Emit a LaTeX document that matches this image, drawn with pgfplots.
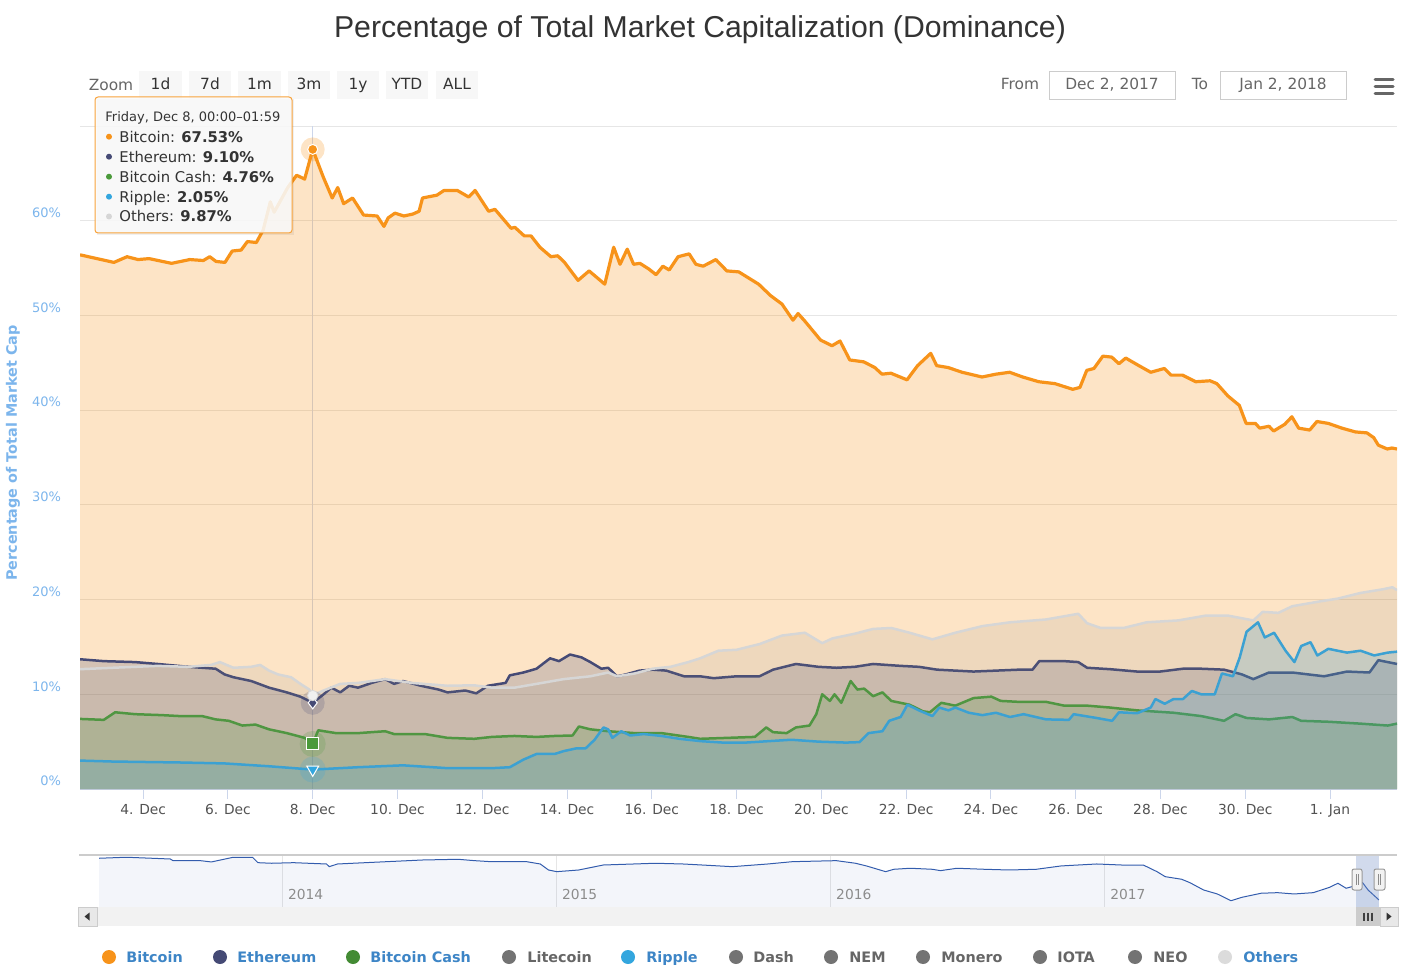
\documentclass[border=0pt]{standalone}
\usepackage{pgfplots}
\pgfplotsset{compat=1.18}
\usepackage{pgfplotstable}
\usepackage{fontspec}
\setmainfont{DejaVu Sans}
\newfontfamily\titlefont{Liberation Sans}
\definecolor{btc}{HTML}{F7931A}
\definecolor{eth}{HTML}{454A75}
\definecolor{bch}{HTML}{4A9A3A}
\definecolor{xrp}{HTML}{33A6DE}
\definecolor{oth}{HTML}{D6D6D6}
\definecolor{gridc}{HTML}{E6E6E6}
\definecolor{axisblue}{HTML}{CCD6EB}
\definecolor{ylab}{HTML}{7CB5EC}
\definecolor{legtext}{HTML}{3D85C6}
\definecolor{nav}{HTML}{335CAD}
\definecolor{txt}{HTML}{333333}
\definecolor{txtg}{HTML}{666666}

\pgfplotstableread{
d v
2.51 56.4
3.31 55.6
3.62 56.2
3.88 55.9
4.14 56.0
4.67 55.5
5.10 55.9
5.42 55.8
5.57 56.2
5.72 55.7
5.93 55.6
6.10 56.8
6.31 56.9
6.46 57.8
6.67 57.7
6.83 59.0
7.00 62.0
7.09 60.9
7.41 63.5
7.62 64.8
7.81 64.4
8.00 67.53
8.25 64.6
8.46 62.4
8.59 63.5
8.73 61.8
8.94 62.4
9.20 60.6
9.52 60.5
9.68 59.4
9.78 60.3
9.94 60.8
10.15 60.5
10.36 60.7
10.51 61.0
10.59 62.4
10.93 62.7
11.10 63.2
11.41 63.2
11.68 62.5
11.83 63.2
12.15 61.0
12.30 61.2
12.68 59.2
12.77 59.3
12.99 58.4
13.15 58.4
13.36 57.2
13.62 56.2
13.78 56.3
13.94 55.6
14.26 53.7
14.52 54.7
14.89 53.3
15.10 57.2
15.25 55.4
15.42 57.0
15.57 55.4
15.72 55.5
15.93 54.9
16.10 54.3
16.26 55.2
16.41 54.8
16.62 56.2
16.88 56.5
17.04 55.4
17.21 55.2
17.51 55.9
17.77 54.7
18.05 54.6
18.52 53.3
18.80 52.1
19.07 51.2
19.33 49.5
19.45 50.2
19.61 49.4
19.98 47.4
20.25 46.8
20.44 47.3
20.67 45.3
21.00 45.1
21.26 44.5
21.43 43.8
21.64 43.9
22.02 43.2
22.27 44.7
22.58 46.0
22.72 44.7
22.99 44.5
23.32 44.0
23.79 43.5
24.12 43.8
24.44 44.0
24.75 43.5
25.13 43.0
25.51 42.8
25.93 42.2
26.10 42.4
26.26 44.2
26.43 44.4
26.64 45.7
26.85 45.6
27.02 44.9
27.18 45.5
27.49 44.7
27.77 44.0
28.09 44.4
28.25 43.7
28.52 43.7
28.83 43.0
29.17 43.1
29.33 42.8
29.59 41.5
29.86 40.5
30.02 38.6
30.24 38.6
30.34 38.1
30.56 38.3
30.67 37.8
30.93 38.5
31.10 39.3
31.26 38.1
31.52 37.9
31.69 38.8
31.96 38.6
32.28 38.1
32.60 37.7
32.87 37.6
33.03 37.1
33.14 36.3
33.35 35.9
33.46 36.0
33.58 35.9
}\btcdata

\pgfplotstableread{
d v
2.51 13.7
3.07 13.5
3.81 13.4
4.34 13.2
5.07 12.9
5.71 12.7
5.92 12.1
6.13 11.8
6.55 11.4
6.97 10.7
7.39 10.2
7.71 9.75
8.00 9.10
8.23 9.9
8.44 10.7
8.65 10.2
8.86 10.9
9.07 10.7
9.39 11.2
9.71 11.6
9.92 11.1
10.13 11.4
10.55 10.9
10.97 10.5
11.18 10.2
11.60 10.4
11.86 10.1
12.13 10.9
12.55 11.2
12.65 12.0
12.97 12.3
13.28 12.7
13.60 13.8
13.81 13.5
14.07 14.2
14.34 13.9
14.55 13.4
14.81 12.7
14.97 12.8
15.18 11.9
15.39 12.1
15.71 12.5
16.02 12.6
16.34 12.5
16.76 11.9
17.14 11.9
17.46 11.7
18.00 11.9
18.54 11.9
18.86 12.6
19.40 13.2
19.93 12.9
20.36 12.8
20.79 12.9
21.22 13.2
21.87 13.0
22.30 12.9
22.73 12.6
23.59 12.4
24.66 12.6
24.98 12.6
25.14 13.5
25.73 13.5
26.06 13.4
26.27 12.8
26.81 12.65
27.45 12.4
27.99 12.4
28.53 12.7
28.96 12.7
29.50 12.6
29.92 12.1
30.19 11.6
30.56 12.3
31.11 12.3
31.86 11.9
32.40 12.4
32.93 12.3
33.14 13.6
33.58 13.2
}\ethdata

\pgfplotstableread{
d v
2.51 7.4
3.07 7.3
3.34 8.1
3.81 7.9
4.44 7.8
4.86 7.7
5.39 7.7
5.71 7.35
6.02 7.2
6.34 6.7
6.65 6.8
6.97 6.3
7.39 5.9
7.81 5.4
8.00 4.76
8.13 6.2
8.55 5.9
9.07 5.9
9.71 6.1
9.92 5.8
10.65 5.8
11.18 5.4
11.81 5.3
12.23 5.5
12.76 5.6
13.28 5.5
13.71 5.6
14.13 5.65
14.28 6.6
14.55 6.3
14.97 6.1
15.60 5.9
16.23 5.9
16.86 5.5
17.14 5.3
17.79 5.4
18.43 5.5
18.70 6.5
18.86 6.0
19.18 5.9
19.40 6.5
19.72 6.7
19.88 7.9
20.02 10.0
20.20 9.3
20.31 10.0
20.47 9.1
20.69 11.4
20.85 10.5
21.01 10.6
21.22 9.8
21.44 10.2
21.65 9.3
22.08 8.9
22.40 8.2
22.56 8.1
22.83 9.1
23.16 8.8
23.59 9.6
24.01 9.75
24.23 9.3
24.66 9.2
25.30 9.2
25.73 8.8
26.27 8.8
26.81 8.6
27.45 8.3
28.31 8.05
28.96 7.7
29.50 7.2
29.77 7.9
30.03 7.5
30.56 7.35
31.11 7.6
31.32 7.2
31.96 7.1
32.72 6.9
33.36 6.7
33.58 6.9
}\bchdata

\pgfplotstableread{
d v
2.51 3.0
3.28 2.9
4.86 2.8
5.92 2.7
6.97 2.4
8.00 2.05
9.07 2.3
10.13 2.5
11.18 2.2
12.23 2.2
12.65 2.3
12.97 3.1
13.28 3.7
13.71 3.7
13.92 4.0
14.23 4.3
14.44 4.3
14.65 5.2
14.86 6.5
14.97 6.3
15.07 5.4
15.28 6.1
15.49 5.65
15.81 5.8
16.23 5.6
16.65 5.3
17.16 5.05
17.68 4.9
18.21 4.9
18.75 5.05
19.29 5.2
19.93 5.0
20.58 4.9
20.90 4.95
21.11 5.9
21.44 6.1
21.60 7.2
21.87 7.6
22.03 8.9
22.30 8.3
22.62 7.7
22.78 8.6
23.00 8.3
23.16 8.6
23.48 8.05
23.80 7.8
24.12 8.05
24.45 7.6
24.77 7.9
25.30 7.35
25.84 7.3
25.95 7.9
26.49 7.5
26.86 7.2
27.02 8.1
27.45 8.0
27.77 8.6
27.88 9.5
28.10 9.0
28.31 9.5
28.53 9.5
28.74 10.35
28.96 10.0
29.28 10.0
29.45 12.2
29.71 11.9
29.87 13.9
30.03 16.6
30.30 17.6
30.46 16.0
30.68 16.5
30.95 14.6
31.16 13.4
31.32 15.1
31.54 15.5
31.70 14.1
31.96 14.8
32.40 14.4
32.72 14.6
33.04 14.1
33.36 14.4
33.58 14.5
}\xrpdata

\pgfplotstableread{
d v
2.51 12.65
3.28 12.8
4.34 13.0
5.07 12.9
5.60 13.1
5.81 13.4
6.13 12.8
6.55 12.9
6.76 13.1
6.97 12.5
7.18 12.1
7.49 11.8
7.71 11.1
7.92 10.5
8.00 9.87
8.23 10.35
8.65 11.1
9.07 11.2
9.71 11.6
10.34 11.2
11.18 10.9
11.81 10.95
12.23 10.7
12.76 10.7
13.28 11.1
13.92 11.6
14.55 11.9
14.97 12.3
15.18 11.9
15.60 12.2
16.02 12.7
16.44 12.9
16.86 13.4
17.14 13.8
17.57 14.6
18.00 14.7
18.54 15.3
19.07 16.2
19.61 16.5
20.02 15.4
20.26 15.9
20.79 16.4
21.22 16.9
21.65 17.0
22.08 16.5
22.62 15.8
23.16 16.5
23.80 17.2
24.45 17.6
25.30 17.9
26.06 18.5
26.27 17.5
26.59 17.0
27.13 17.0
27.67 17.6
28.42 17.8
29.06 18.3
29.60 18.3
30.19 17.8
30.41 18.7
30.78 18.6
31.11 19.3
31.75 19.8
32.18 20.1
32.72 20.7
33.26 21.1
33.47 21.3
33.58 21.0
}\othdata

\pgfplotstableread{
t v
2013.33 93.6
2013.43 95.0
2013.59 92.6
2013.60 90.3
2013.70 90.3
2013.74 88.5
2013.82 95.0
2013.89 95.0
2013.91 87.5
2013.96 86.7
2014.04 87.5
2014.16 85.7
2014.17 82.0
2014.20 85.7
2014.38 88.9
2014.51 91.2
2014.64 92.2
2014.70 90.3
2014.76 88.9
2014.89 88.9
2014.94 85.7
2014.97 77.4
2015.00 75.1
2015.08 77.4
2015.17 84.3
2015.36 86.7
2015.46 85.7
2015.53 84.3
2015.64 82.0
2015.77 85.7
2015.86 88.9
2016.02 90.3
2016.09 86.7
2016.13 83.0
2016.20 75.1
2016.23 78.4
2016.29 79.8
2016.37 78.4
2016.40 76.5
2016.46 79.8
2016.56 78.4
2016.65 77.4
2016.75 78.4
2016.84 83.0
2016.97 85.7
2017.06 84.3
2017.14 84.3
2017.19 75.1
2017.22 68.2
2017.28 64.6
2017.31 59.9
2017.36 49.8
2017.41 44.3
2017.46 35.0
2017.50 39.7
2017.57 45.3
2017.63 46.1
2017.69 44.3
2017.76 46.1
2017.82 53.5
2017.85 59.1
2017.88 52.2
2017.91 55.3
2017.94 59.9
2017.96 49.8
2018.00 36.0
}\navdata

\begin{document}
\begin{tikzpicture}
\path[use as bounding box] (0,0) rectangle (707pt,488pt);

% ---------------- main chart ----------------
\begin{axis}[
  at={(40pt,93.5pt)}, anchor=south west,
  width=658.5pt, height=331.5pt, scale only axis,
  xmin=2.51, xmax=33.58, ymin=0, ymax=70,
  axis x line*=bottom, axis y line*=left,
  y axis line style={draw=none},
  x axis line style={draw=axisblue, line width=0.5pt},
  xtick={4,6,...,32},
  xticklabels={4. Dec,6. Dec,8. Dec,10. Dec,12. Dec,14. Dec,16. Dec,18. Dec,20. Dec,22. Dec,24. Dec,26. Dec,28. Dec,30. Dec,1. Jan},
  ytick={0,10,...,70},
  yticklabels={0\%,10\%,20\%,30\%,40\%,50\%,60\%,},
  ymajorgrids, grid style={draw=gridc, line width=0.5pt},
  tick align=outside, major tick length=5pt,
  x tick style={draw=axisblue, line width=0.5pt},
  y tick style={draw=none},
  xticklabel style={font=\fontsize{6.9}{8}\selectfont, text=txt!85, yshift=1pt},
  yticklabel style={font=\fontsize{6.5}{8}\selectfont, text=ylab, yshift=4pt, xshift=-1pt},
]
% crosshair (behind the areas)
\addplot[draw=axisblue, line width=0.6pt] coordinates {(8,0) (8,70)};
\addplot[draw=none, fill=btc, fill opacity=0.25] table[x=d,y=v]{\btcdata} \closedcycle;
\addplot[btc, line width=1.6pt, line join=round] table[x=d,y=v]{\btcdata};
\addplot[draw=none, fill=eth, fill opacity=0.22] table[x=d,y=v]{\ethdata} \closedcycle;
\addplot[eth, line width=1.25pt, line join=round] table[x=d,y=v]{\ethdata};
\addplot[draw=none, fill=bch, fill opacity=0.22] table[x=d,y=v]{\bchdata} \closedcycle;
\addplot[bch, line width=1.25pt, line join=round] table[x=d,y=v]{\bchdata};
\addplot[draw=none, fill=xrp, fill opacity=0.22] table[x=d,y=v]{\xrpdata} \closedcycle;
\addplot[xrp, line width=1.25pt, line join=round] table[x=d,y=v]{\xrpdata};
\addplot[draw=none, fill=gray, fill opacity=0.12] table[x=d,y=v]{\othdata} \closedcycle;
\addplot[oth, line width=1.25pt, line join=round] table[x=d,y=v]{\othdata};
% hover halos and markers
\addplot[only marks, mark=*, mark size=6pt, mark options={fill=btc, draw=btc, fill opacity=0.25, draw opacity=0}] coordinates {(8,67.53)};
\addplot[only marks, mark=*, mark size=2.5pt, mark options={fill=btc, draw=white, line width=0.5pt}] coordinates {(8,67.53)};
\addplot[only marks, mark=*, mark size=6pt, mark options={fill=eth, draw=eth, fill opacity=0.2, draw opacity=0}] coordinates {(8,9.1)};
\addplot[only marks, mark=diamond*, mark size=3pt, mark options={fill=eth, draw=white, line width=0.5pt}] coordinates {(8,9.1)};
\addplot[only marks, mark=*, mark size=2.6pt, mark options={fill=black!6, draw=black!15, line width=0.4pt}] coordinates {(8,9.87)};
\addplot[only marks, mark=*, mark size=6.5pt, mark options={fill=bch, draw=bch, fill opacity=0.2, draw opacity=0}] coordinates {(8,4.76)};
\addplot[only marks, mark=square*, mark size=3pt, mark options={fill=bch, draw=white, line width=0.5pt}] coordinates {(8,4.76)};
\addplot[only marks, mark=*, mark size=6.5pt, mark options={fill=xrp, draw=xrp, fill opacity=0.2, draw opacity=0}] coordinates {(8,2.05)};
\addplot[only marks, mark=triangle*, mark size=3.4pt, mark options={fill=xrp, draw=white, line width=0.5pt, rotate=180}] coordinates {(8,2.05)};
\end{axis}

% ---------------- navigator ----------------
\begin{axis}[
  at={(49.5pt,34.5pt)}, anchor=south west,
  width=640pt, height=26pt, scale only axis,
  xmin=2013.33, xmax=2018.0, ymin=26.3, ymax=98.1,
  axis line style={draw=none},
  xtick={2014,2015,2016,2017}, xticklabels={},
  ytick=\empty, major tick length=0pt,
  xmajorgrids, grid style={draw=gridc, line width=0.5pt},
]
\addplot[draw=none, fill=nav, fill opacity=0.06] table[x=t,y=v]{\navdata} \closedcycle;
\addplot[nav, line width=0.5pt] table[x=t,y=v]{\navdata};
\fill[fill=nav!75!white, fill opacity=0.3] (axis cs:2017.915,26.3) rectangle (axis cs:2018.0,98.1);
\node[anchor=west, inner sep=0pt, xshift=2.5pt, text=black!45, font=\fontsize{6.9}{8}\selectfont] at (axis cs:2014,43) {2014};
\node[anchor=west, inner sep=0pt, xshift=2.5pt, text=black!45, font=\fontsize{6.9}{8}\selectfont] at (axis cs:2015,43) {2015};
\node[anchor=west, inner sep=0pt, xshift=2.5pt, text=black!45, font=\fontsize{6.9}{8}\selectfont] at (axis cs:2016,43) {2016};
\node[anchor=west, inner sep=0pt, xshift=2.5pt, text=black!45, font=\fontsize{6.9}{8}\selectfont] at (axis cs:2017,43) {2017};
\end{axis}

% ---------------- decorations in pixel units ----------------
\begin{scope}[x=0.5pt, y=-0.5pt, shift={(0,488pt)}]
% title
\node[text=txt, font=\titlefont\fontsize{15.1}{18}\selectfont] at (700,30) {Percentage of Total Market Capitalization (Dominance)};
% y label
\node[rotate=90, text=ylab, font=\bfseries\fontsize{7.2}{8}\selectfont] at (13,453) {Percentage of Total Market Cap};
% range selector
\node[anchor=base, text=txtg, font=\fontsize{7.7}{9}\selectfont] at (111,91) {Zoom};
\foreach \xa/\xb/\lab in {139/182/1d, 189/231/7d, 238/281/1m, 288/330/3m, 337/379/1y, 386/428/YTD, 436/478/ALL}{
  \fill[fill=black!3] (\xa,71.5) rectangle (\xb,99.5);
  \node[anchor=base, text=txt, font=\fontsize{7.7}{9}\selectfont] at ({(\xa+\xb)/2},90) {\lab};
}
\node[anchor=base, text=txtg, font=\fontsize{7.7}{9}\selectfont] at (1020,90) {From};
\draw[draw=black!20, line width=0.5pt] (1049,71.5) rectangle (1175,99.5);
\node[anchor=base, text=txtg, font=\fontsize{7.7}{9}\selectfont] at (1112,90) {Dec 2, 2017};
\node[anchor=base, text=txtg, font=\fontsize{7.7}{9}\selectfont] at (1200,90) {To};
\draw[draw=black!20, line width=0.5pt] (1220,71.5) rectangle (1346,99.5);
\node[anchor=base, text=txtg, font=\fontsize{7.7}{9}\selectfont] at (1283,90) {Jan 2, 2018};
\foreach \yy in {79.5,86.5,93.5}{
  \draw[txtg, line width=1.5pt, line cap=round] (1375,\yy) -- (1393,\yy);
}
% tooltip
\fill[black, opacity=0.06] (97,99) rectangle (294,235);
\draw[draw=btc!85, fill=black!2, fill opacity=0.88, line width=0.5pt, rounded corners=1.5pt] (95,97) rectangle (292,233);
\node[anchor=base west, inner sep=0pt, text=txt, font=\fontsize{6.5}{8}\selectfont] at (105,122) {Friday, Dec 8, 00:00--01:59};
\foreach \yy/\cc/\nm/\val in {136.7/btc/Bitcoin/67.53\%, 156.7/eth/Ethereum/9.10\%, 176.7/bch/Bitcoin Cash/4.76\%, 196.7/xrp/Ripple/2.05\%, 216.5/oth/Others/9.87\%}{
  \fill[\cc] (109,\yy) circle (3);
  \node[anchor=base west, inner sep=0pt, text=txt, font=\fontsize{7.4}{9}\selectfont] at (119,\yy+5.4) {\nm: \textbf{\val}};
}
% navigator frame / scrollbar
\draw[draw=black!20, line width=0.6pt] (79,855) -- (1397,855);
\fill[fill=black!5] (97,907) rectangle (1380,926);
\draw[draw=black!20, fill=black!9, line width=0.4pt] (78,907) rectangle (97,926);
\draw[draw=black!20, fill=black!9, line width=0.4pt] (1380,907) rectangle (1398,926);
\fill[black!80] (84.5,916.5) -- (89.5,912.5) -- (89.5,920.5) -- cycle;
\fill[black!80] (1391.5,916.5) -- (1386.5,912.5) -- (1386.5,920.5) -- cycle;
\fill[fill=black!20] (1356,907) rectangle (1380,926);
\foreach \gx in {1364,1368,1372}{\draw[black!75, line width=0.7pt] (\gx,912.5) -- (\gx,920.5);}
\draw[draw=black!40, fill=black!5, line width=0.5pt, rounded corners=1pt] (1352,869) rectangle (1362,890);
\draw[black!45, line width=0.5pt] (1356,874) -- (1356,885) (1358.5,874) -- (1358.5,885);
\draw[draw=black!40, fill=black!5, line width=0.5pt, rounded corners=1pt] (1374,869) rectangle (1385,890);
\draw[black!45, line width=0.5pt] (1378,874) -- (1378,885) (1380.5,874) -- (1380.5,885);
% legend
\foreach \mx/\tx/\cc/\tc/\nm in {109/126/btc/legtext/Bitcoin, 220/237/eth/legtext/Ethereum, 353/370/bch!90!black/legtext/Bitcoin Cash, 509/527/black!55/txtg/Litecoin, 628/646/xrp/legtext/Ripple, 736/753/black!55/txtg/Dash, 831/849/black!55/txtg/NEM, 923/941/black!55/txtg/Monero, 1040/1057/black!55/txtg/IOTA, 1135/1153/black!55/txtg/NEO, 1225/1243/black!14/legtext/Others}{
  \fill[\cc] (\mx,957) circle (7);
  \node[anchor=base west, inner sep=0pt, text=\tc, font=\bfseries\fontsize{7.2}{8}\selectfont] at (\tx,962.2) {\nm};
}
\end{scope}
\end{tikzpicture}
\end{document}
